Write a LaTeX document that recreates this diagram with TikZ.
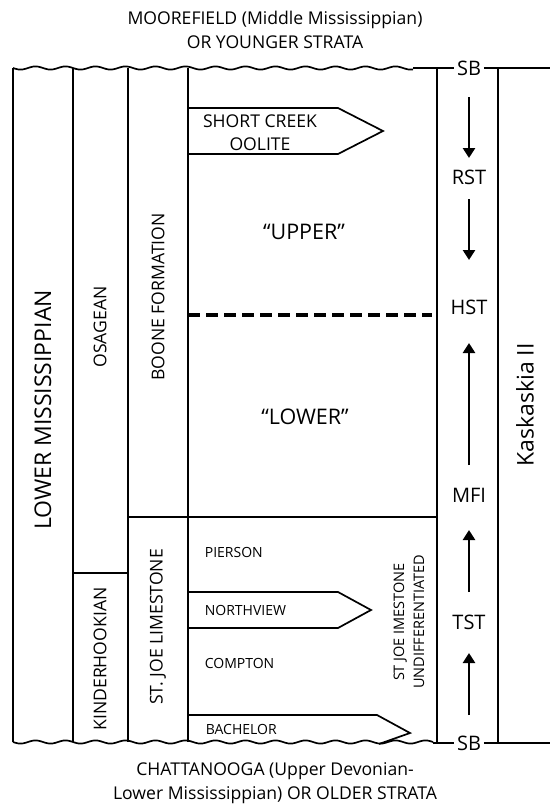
\documentclass[tikz,border=0pt]{standalone}
\usepackage{fontspec}
\setmainfont{Open Sans}
\usetikzlibrary{arrows.meta}
\begin{document}
\begin{tikzpicture}[x=1pt,y=-1pt,line width=1.7pt,
  lbl/.style={inner sep=0pt,font=\fontsize{14}{16}\selectfont},
  rlbl/.style={inner sep=0pt,rotate=90,font=\fontsize{17.6}{20}\selectfont},
  seq/.style={inner sep=2pt,font=\fontsize{20}{22}\selectfont},
  seqarrow/.style={line width=2.6pt,-{Triangle[width=12pt,length=10pt]}},
  ttl/.style={inner sep=0pt,align=center,font=\fontsize{17.6}{24.5}\selectfont}]
\fill[white] (0,0) rectangle (550,806);
\useasboundingbox (0,0) rectangle (550,806);
% titles
\node[ttl] (toptitle) at (275,30) {MOOREFIELD (Middle Mississippian)\\OR YOUNGER STRATA};
\node[ttl] (bottitle) at (275,783) {CHATTANOOGA (Upper Devonian-\\Lower Mississippian) OR OLDER STRATA};
% wavy boundaries
\draw plot[domain=13:413,samples=160,smooth] (\x,{68+1.6*sin(((\x-13)/30)*360)});
\draw plot[domain=13:433,samples=160,smooth] (\x,{742+1.6*sin(((\x-13)/30)*360)});
\node[seq] (sbtop) at (469,68) {SB};
\node[seq] (sbbot) at (469,743) {SB};
\coordinate (wtop) at (413,68);
\coordinate (wbot) at (433,743);
\draw (wtop) -- (sbtop.west);
\draw (sbtop.east) -- (550,68);
\draw (wbot) -- (sbbot.west);
\draw (sbbot.east) -- (550,743);
% vertical column lines
\foreach \xx in {13,73,128,188}{\draw (\xx,68) -- (\xx,742);}
\draw (437,68) -- (437,743);
\draw (498,68) -- (498,743);
% horizontal boundaries
\draw (73,573) -- (128,573);
\draw (128,517) -- (437,517);
\draw[line width=3.8pt,dash pattern=on 11.5pt off 6.5pt] (188,315) -- (432,315);
% tongues
\draw (188,108) -- (338,108) -- (383,131) -- (338,154) -- (188,154);
\draw (188,592) -- (338,592) -- (371,610) -- (338,628) -- (188,628);
\draw (188,715) -- (377,715) -- (410,733) -- (379,744);
% column labels
\node[rlbl,font=\fontsize{23}{26}\selectfont] (lowmiss) at (43,410) {LOWER MISSISSIPPIAN};
\node[rlbl] (osag) at (100,327) {OSAGEAN};
\node[rlbl] (kind) at (100,659) {KINDERHOOKIAN};
\node[rlbl] (boone) at (158,297) {BOONE FORMATION};
\node[rlbl] (stjoe) at (158,627) {ST. JOE LIMESTONE};
\node[rlbl,font=\fontsize{23}{26}\selectfont] (kask) at (525,405) {Kaskaskia II};
\node[rlbl,align=center,font=\fontsize{14.5}{20}\selectfont] (undiff) at (409,622) {ST JOE IMESTONE\\UNDIFFERENTIATED};
% unit labels
\node[ttl,font=\fontsize{17.6}{23}\selectfont] (shortcreek) at (260,133) {SHORT CREEK\\OOLITE};
\node[lbl,font=\fontsize{21.5}{24}\selectfont] (upper) at (304,232) {“UPPER”};
\node[lbl,font=\fontsize{21.5}{24}\selectfont] (lower) at (305,417) {“LOWER”};
\node[lbl,anchor=west] (pierson) at (204,552) {PIERSON};
\node[lbl,anchor=west] (northview) at (204,610) {NORTHVIEW};
\node[lbl,anchor=west] (compton) at (204,663) {COMPTON};
\node[lbl,anchor=west] (bachelor) at (205,729) {BACHELOR};
% systems tracts
\node[seq] (rst) at (469,177) {RST};
\node[seq] (hst) at (469,307) {HST};
\node[seq] (mfi) at (469,495) {MFI};
\node[seq] (tst) at (469,622) {TST};
\draw[seqarrow] (469,97) -- (469,158);
\draw[seqarrow] (469,199) -- (469,260);
\draw[seqarrow] (469,465) -- (469,343);
\draw[seqarrow] (469,592) -- (469,530);
\draw[seqarrow] (469,715) -- (469,653);
\end{tikzpicture}
\end{document}
